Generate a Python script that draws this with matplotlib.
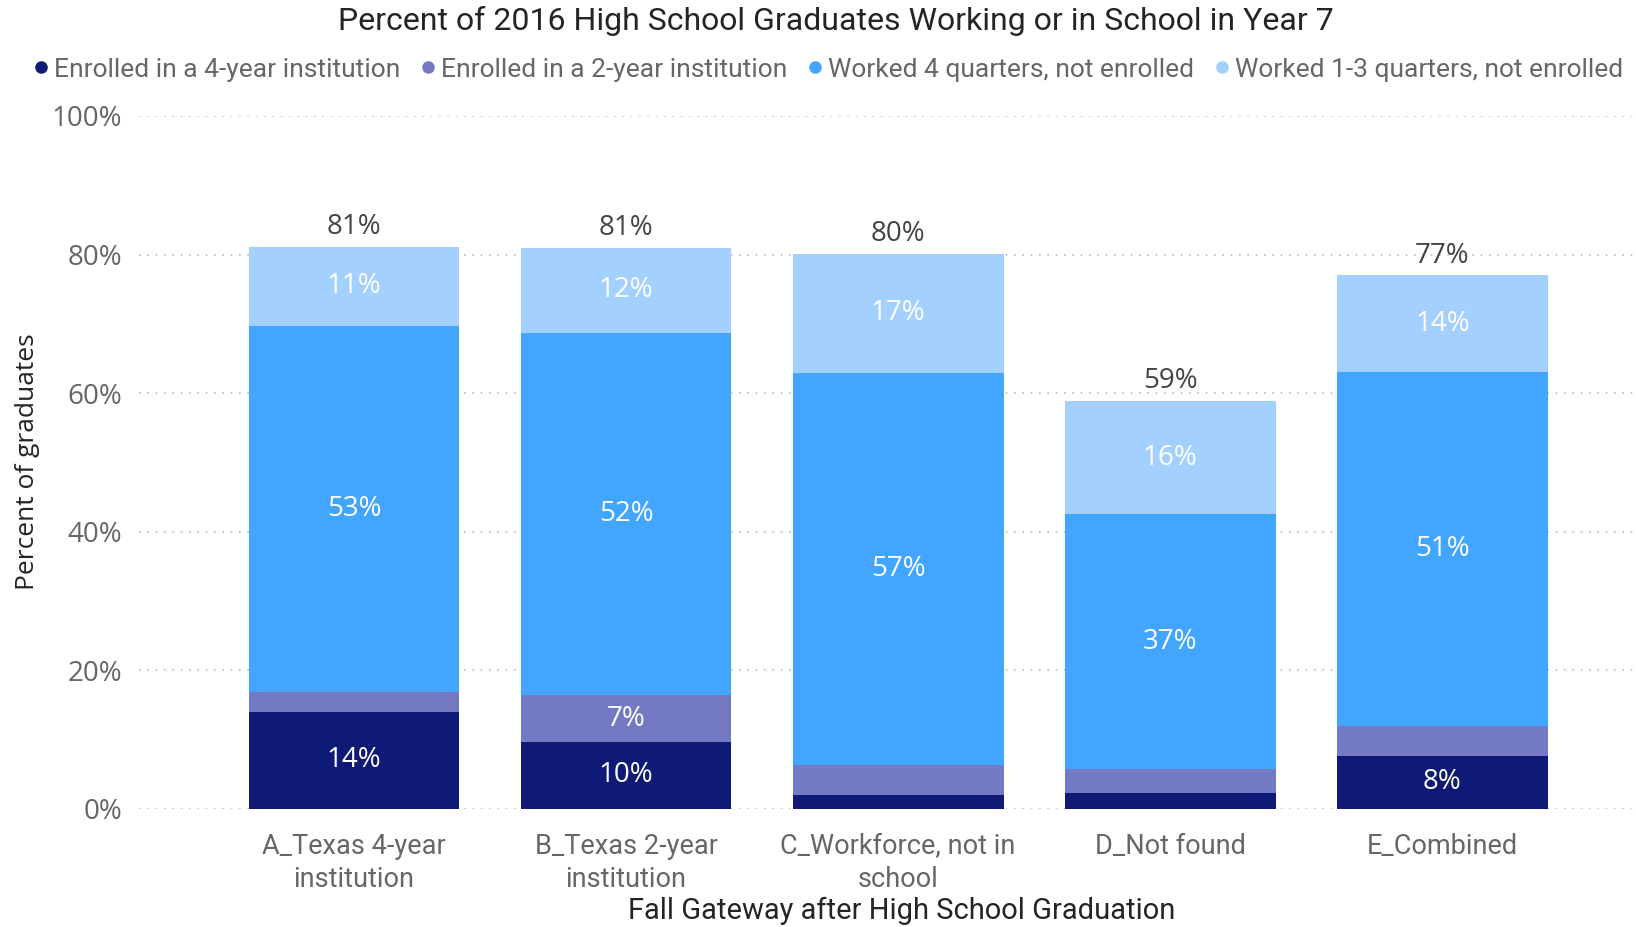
import matplotlib.pyplot as plt
from matplotlib.lines import Line2D

# 数据
categories = ['A_Texas 4-year\ninstitution', 'B_Texas 2-year\ninstitution',
              'C_Workforce, not in\nschool', 'D_Not found', 'E_Combined']
series_names = ['Enrolled in a 4-year institution', 'Enrolled in a 2-year institution',
                'Worked 4 quarters, not enrolled', 'Worked 1-3 quarters, not enrolled']
enrolled_4yr = [14.0, 9.7, 2.0, 2.3, 7.7]
enrolled_2yr = [2.9, 6.7, 4.3, 3.4, 4.3]
worked_4q = [52.8, 52.3, 56.6, 36.8, 51.0]
worked_1_3q = [11.4, 12.3, 17.2, 16.4, 14.0]
yticks = [0, 20, 40, 60, 80, 100]

colors = ['#0E1A75', '#737AC3', '#42A5FF', '#A3D0FF']
narrow = ['DejaVu Sans Condensed', 'Roboto', 'DejaVu Sans']
regular = ['Open Sans', 'DejaVu Sans']

fig = plt.figure(figsize=(16.36, 9.27), dpi=100)
ax = fig.add_axes([0.085, 0.1273, 0.913, 0.7476])

x = list(range(len(categories)))
series = [enrolled_4yr, enrolled_2yr, worked_4q, worked_1_3q]
bottom = [0.0] * len(x)
for vals, col in zip(series, colors):
    ax.bar(x, vals, width=0.775, bottom=bottom, color=col, zorder=2)
    for i, v in enumerate(vals):
        if v >= 5:
            ax.text(i, bottom[i] + v / 2, f'{v:.0f}%', ha='center', va='center',
                    color='white', fontsize=20, family=regular, zorder=3)
    bottom = [b + v for b, v in zip(bottom, vals)]

# 总计标签
for i, tot in enumerate(bottom):
    ax.annotate(f'{tot:.0f}%', (i, tot), xytext=(0, 4), textcoords='offset points',
                ha='center', va='bottom', color='#444444', fontsize=20, family=regular)

ax.set_xlim(-0.79, 4.70)
ax.set_ylim(0, 100)
ax.set_yticks(yticks)
ax.set_yticklabels([f'{t}%' for t in yticks], family=regular, fontsize=20, color='#666666')
ax.set_xticks(x)
ax.set_xticklabels(categories, family=narrow, fontsize=19.5, color='#666666', linespacing=1.3)
ax.tick_params(length=0, pad=12)
ax.tick_params(axis='x', pad=17)
for s in ax.spines.values():
    s.set_visible(False)
ax.grid(axis='y', linestyle=(0, (1, 4)), color='#BBBBBB', linewidth=1.2, zorder=0)

fig.text(0.511, 0.977, 'Percent of 2016 High School Graduates Working or in School in Year 7',
         ha='center', va='center', fontsize=23, family=narrow, color='#252423')
fig.text(0.551, 0.017, 'Fall Gateway after High School Graduation',
         ha='center', va='center', fontsize=21, family=narrow, color='#252423')
fig.text(0.017, 0.502, 'Percent of graduates', rotation=90, ha='center', va='center',
         fontsize=19, family=regular, color='#252423')

handles = [Line2D([], [], marker='o', linestyle='', color=c, markersize=8) for c in colors]
leg = fig.legend(handles, series_names, loc='center', bbox_to_anchor=(0.5045, 0.925), ncol=4,
                 frameon=False, handletextpad=0.0, columnspacing=0.55, handlelength=1.0,
                 prop={'family': narrow, 'size': 19})
for t in leg.get_texts():
    t.set_color('#666666')

plt.savefig('out.png', dpi=100)
